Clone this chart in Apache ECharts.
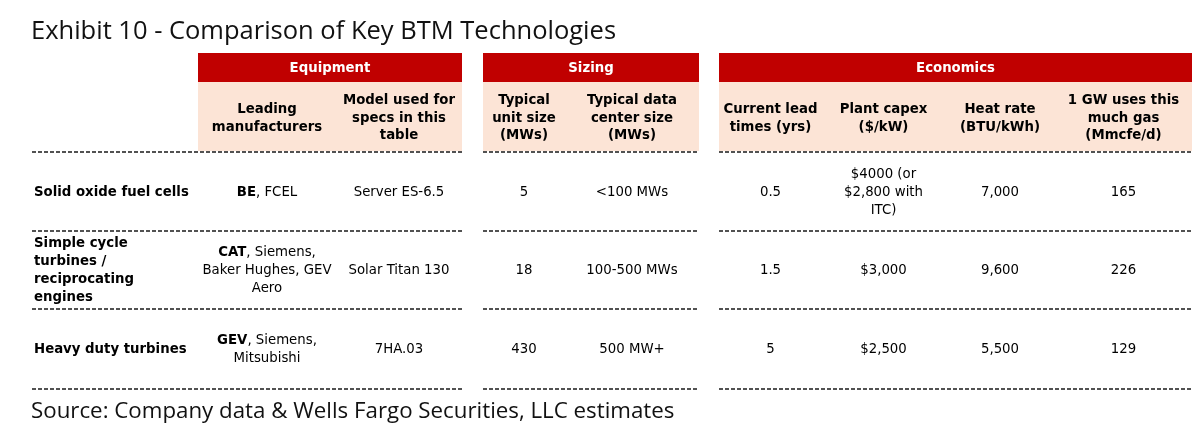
<!DOCTYPE html>
<html>
<head>
<meta charset="utf-8">
<script src="https://cdn.jsdelivr.net/npm/echarts@6/dist/echarts.min.js"></script>
<style>html,body{margin:0;padding:0;background:#fff}#c{width:1200px;height:432px}</style>
</head>
<body>
<div id="c"></div>
<script>
// ---------- DATA ----------
const titleText = "Exhibit 10 - Comparison of Key BTM Technologies";
const sourceText = "Source: Company data & Wells Fargo Securities, LLC estimates";
const groups = ["Equipment", "Sizing", "Economics"];
const columnHeaders = [
  ["Leading\nmanufacturers", "Model used for\nspecs in this\ntable"],
  ["Typical\nunit size\n(MWs)", "Typical data\ncenter size\n(MWs)"],
  ["Current lead\ntimes (yrs)", "Plant capex\n($/kW)", "Heat rate\n(BTU/kWh)", "1 GW uses this\nmuch gas\n(Mmcfe/d)"]
];
const technologies = ["Solid oxide fuel cells", "Simple cycle\nturbines /\nreciprocating\nengines", "Heavy duty turbines"];
const leadMakers = ["BE", "CAT", "GEV"];
const otherMakers = [", FCEL", ", Siemens,\nBaker Hughes, GEV\nAero", ", Siemens,\nMitsubishi"];
const models = ["Server ES-6.5", "Solar Titan 130", "7HA.03"];
const unitSizeMW = [5, 18, 430];
const dataCenterSize = ["<100 MWs", "100-500 MWs", "500 MW+"];
const leadTimeYrs = [0.5, 1.5, 5];
const plantCapex = ["$4000 (or\n$2,800 with\nITC)", "$3,000", "$2,500"];
const heatRate = [7000, 9600, 5500];
const gasUseMmcfed = [165, 226, 129];

// ---------- LAYOUT ----------
const L = {
  blocks: [[32, 198, 336, 462], [483, 565, 699], [719, 822, 945, 1055, 1192]],
  redTop: 53, redBottom: 82, pinkBottom: 151,
  rules: [152, 231, 309, 389],
  red: '#C00000', pink: '#FCE4D6',
  font: '"DejaVu Sans", Verdana, sans-serif',
  size: 13.3, lh: 18, dy: 1
};

const fmt = n => n.toLocaleString('en-US');
const g = [];
const text = (t, x, y, opt) => g.push({
  type: 'text', silent: true,
  style: Object.assign({ text: t, x: x, y: y + L.dy, align: 'center', verticalAlign: 'middle',
    fontFamily: L.font, fontSize: L.size, lineHeight: L.lh, fill: '#000' }, opt || {})
});

// title & source
text(titleText, 31, 31, { align: 'left', fontFamily: '"Open Sans", sans-serif', fontSize: 25.5, lineHeight: 30, fill: '#111' });
text(sourceText, 31, 411, { align: 'left', fontFamily: '"Open Sans", sans-serif', fontSize: 22.3, lineHeight: 28, fill: '#111' });

// header bands
L.blocks.forEach((edges, b) => {
  const x0 = b === 0 ? edges[1] : edges[0];
  const x1 = edges[edges.length - 1];
  g.push({ type: 'rect', silent: true, shape: { x: x0, y: L.redTop, width: x1 - x0, height: L.redBottom - L.redTop }, style: { fill: L.red } });
  g.push({ type: 'rect', silent: true, shape: { x: x0, y: L.redBottom, width: x1 - x0, height: L.pinkBottom - L.redBottom }, style: { fill: L.pink } });
  text(groups[b], (x0 + x1) / 2, (L.redTop + L.redBottom) / 2, { fill: '#fff', fontWeight: 'bold' });
  const start = b === 0 ? 1 : 0;
  columnHeaders[b].forEach((h, i) => {
    const c = start + i;
    text(h, (edges[c] + edges[c + 1]) / 2, (L.redBottom + L.pinkBottom) / 2 + 1, { fontWeight: 'bold', lineHeight: 17.5 });
  });
  // dashed rules
  L.rules.forEach(y => g.push({ type: 'line', silent: true, shape: { x1: edges[0], y1: y, x2: x1, y2: y },
    style: { stroke: '#1a1a1a', lineWidth: 1.6, lineDash: [4, 2] } }));
});

// body rows
const cx = (b, c) => (L.blocks[b][c] + L.blocks[b][c + 1]) / 2;
technologies.forEach((tech, r) => {
  const y = (L.rules[r] + L.rules[r + 1]) / 2;
  text(tech, L.blocks[0][0] + 2, y, { align: 'left', fontWeight: 'bold' });
  const others = otherMakers[r].split('\n');
  const rich = '{b|' + leadMakers[r] + '}{n|' + others[0] + '}' + others.slice(1).map(s => '\n{n|' + s + '}').join('');
  text(rich, cx(0, 1), y, { rich: { b: { fontWeight: 'bold', fontFamily: L.font, fontSize: L.size, lineHeight: L.lh }, n: { fontFamily: L.font, fontSize: L.size, lineHeight: L.lh } } });
  text(models[r], cx(0, 2), y);
  text(String(unitSizeMW[r]), cx(1, 0), y);
  text(dataCenterSize[r], cx(1, 1), y);
  text(String(leadTimeYrs[r]), cx(2, 0), y);
  text(plantCapex[r], cx(2, 1), y);
  text(fmt(heatRate[r]), cx(2, 2), y);
  text(String(gasUseMmcfed[r]), cx(2, 3), y);
});

const chart = echarts.init(document.getElementById('c'), null, { renderer: 'canvas' });
chart.setOption({ animation: false, backgroundColor: '#fff', graphic: { elements: g } });
</script>
</body>
</html>
